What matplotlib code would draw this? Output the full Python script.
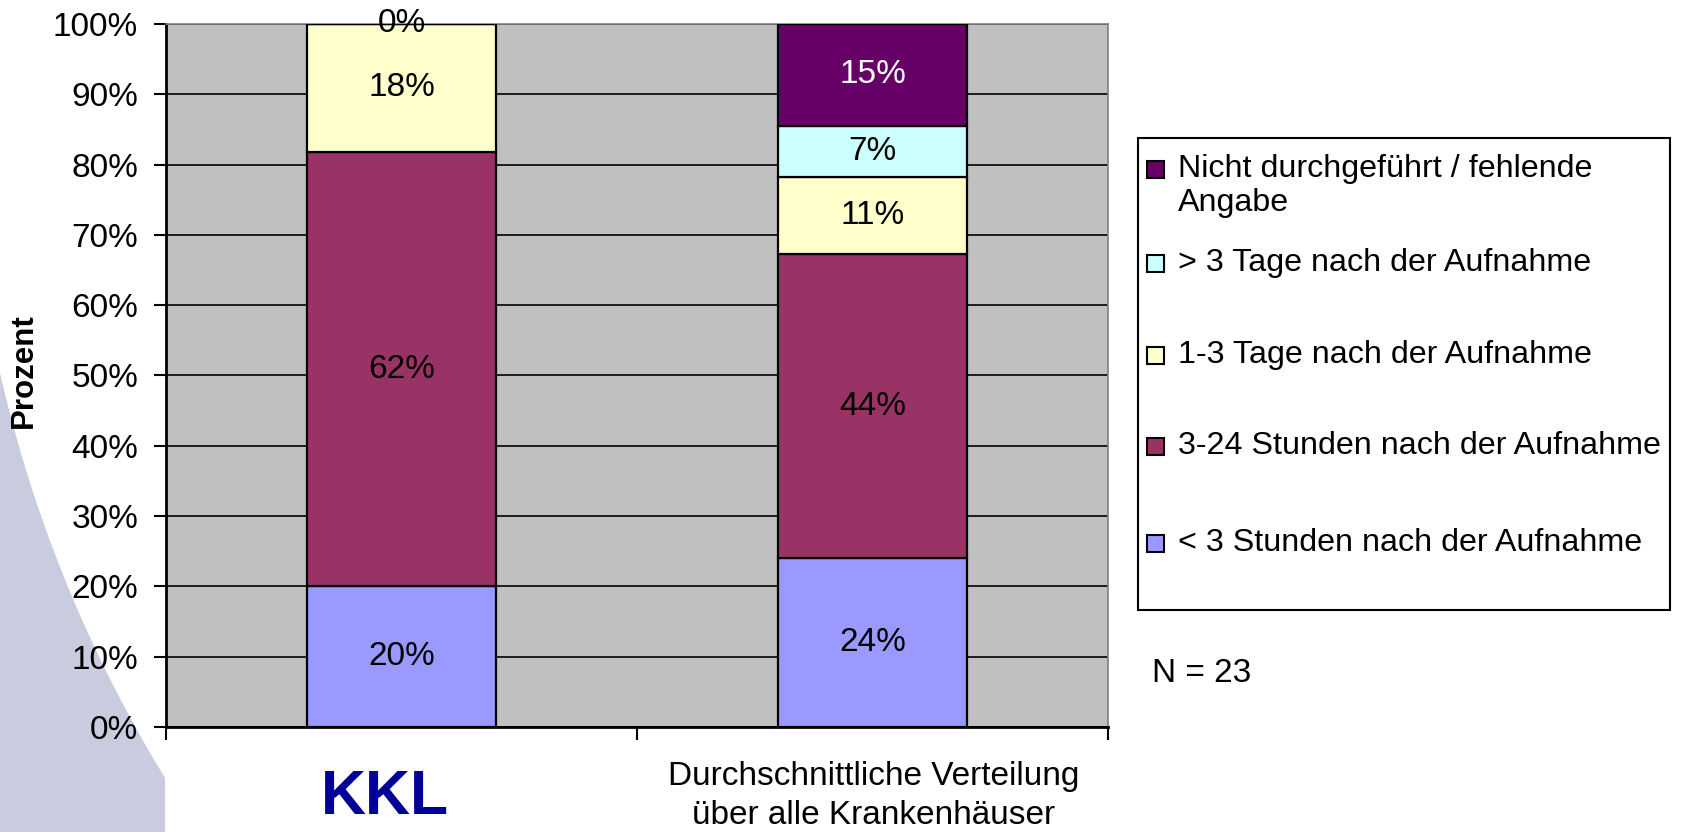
import numpy as np
import matplotlib
matplotlib.use("Agg")
import matplotlib.pyplot as plt
from matplotlib.patches import Rectangle, Polygon

plt.rcParams['font.family'] = ['Liberation Sans', 'DejaVu Sans']

# ---------------- data ----------------
categories = ["KKL", "Durchschnittliche Verteilung\nüber alle Krankenhäuser"]
series_names = ["< 3 Stunden nach der Aufnahme",
                "3-24 Stunden nach der Aufnahme",
                "1-3 Tage nach der Aufnahme",
                "> 3 Tage nach der Aufnahme",
                "Nicht durchgeführt / fehlende\nAngabe"]
lt3h = [20.0, 24.0]
h3_24 = [61.8, 43.3]
d1_3 = [18.2, 11.0]
gt3d = [0.0, 7.2]
missing = [0.0, 14.5]
values = [lt3h, h3_24, d1_3, gt3d, missing]
labels = [["20%", "24%"], ["62%", "44%"], ["18%", "11%"], ["0%", "7%"], ["", "15%"]]
colors = ["#9999FF", "#993366", "#FFFFCC", "#CCFFFF", "#660066"]
label_colors = ["black", "black", "black", "black", "white"]
yticks = [0, 10, 20, 30, 40, 50, 60, 70, 80, 90, 100]
ytick_labels = [f"{v}%" for v in yticks]
y_title = "Prozent"
note = "N = 23"

FS = 24
FS_LEG = 23.2
W, H = 1686, 832
fig = plt.figure(figsize=(W / 100, H / 100), dpi=100)
fig.patch.set_facecolor("white")

# decorative background shape (pixel coordinates)
ax_bg = fig.add_axes([0, 0, 1, 1], zorder=-1)
ax_bg.set_xlim(0, W)
ax_bg.set_ylim(H, 0)
ax_bg.axis("off")
ca, cb, cr = 1320.0, 71.3, 1354.0
xs = np.linspace(0, 165, 60)
ys = cb + np.sqrt(cr ** 2 - (xs - ca) ** 2)
pts = list(zip(xs, ys)) + [(165, H), (0, H)]
ax_bg.add_patch(Polygon(pts, closed=True, facecolor="#c9ccdf", edgecolor="none"))

# main axes
left, right, top, bottom = 166, 1108, 24, 727
ax = fig.add_axes([left / W, 1 - bottom / H, (right - left) / W, (bottom - top) / H], zorder=1)
ax.set_facecolor("#c0c0c0")

x = np.arange(len(categories))
bottoms = np.zeros(len(categories))
for vals, labs, col, lc in zip(values, labels, colors, label_colors):
    vals = np.array(vals)
    ax.bar(x, vals, width=0.4, bottom=bottoms, color=col, edgecolor="black",
           linewidth=1.6, zorder=3)
    for xi, b, v, lab in zip(x, bottoms, vals, labs):
        if lab:
            ax.text(xi, b + v / 2, lab, ha="center", va="center", fontsize=FS,
                    color=lc, zorder=4)
    bottoms = bottoms + vals

ax.set_xlim(-0.5, 1.5)
ax.set_ylim(0, 100)
ax.set_yticks(yticks)
ax.set_yticklabels(ytick_labels, fontsize=FS)
ax.yaxis.grid(True, color="black", linewidth=1.2, zorder=1)
ax.set_axisbelow(True)
ax.tick_params(axis="y", length=9, width=1.5, pad=11, direction="out")
ax.set_xticks([-0.5, 0.5, 1.5])
ax.set_xticklabels([])
ax.tick_params(axis="x", length=9, width=1.5, direction="out")
for s in ["left", "bottom"]:
    ax.spines[s].set_color("black")
    ax.spines[s].set_linewidth(2)
for s in ["top", "right"]:
    ax.spines[s].set_color("#808080")
    ax.spines[s].set_linewidth(1.2)

# overlay in pixel coordinates for titles / legend
ov = fig.add_axes([0, 0, 1, 1], zorder=5)
ov.set_xlim(0, W)
ov.set_ylim(H, 0)
ov.axis("off")
ov.patch.set_alpha(0)

ov.text(24, 371, y_title, rotation=90, ha="center", va="center",
        fontsize=22.5, fontweight="bold")

# category labels
ov.text(385, 798, categories[0], ha="center", va="center",
        fontsize=45, fontweight="bold", color="#000099")
for i, line in enumerate(categories[1].split("\n")):
    ov.text(874, 776 + 39 * i, line, ha="center", va="center", fontsize=FS)

# legend
ov.add_patch(Rectangle((1138, 138), 532, 472, facecolor="white", edgecolor="black",
                       linewidth=1.5))
entry_y = [543, 446, 355, 263, 169]
for name, col, yc in zip(series_names, colors, entry_y):
    ov.add_patch(Rectangle((1147, yc - 8.5), 17, 17, facecolor=col, edgecolor="black",
                           linewidth=1.5))
    for i, line in enumerate(name.split("\n")):
        ov.text(1178, yc + 34 * i, line, ha="left", va="center", fontsize=FS_LEG)

ov.text(1152, 674, note, ha="left", va="center", fontsize=FS)

fig.savefig("out.png", dpi=100)
